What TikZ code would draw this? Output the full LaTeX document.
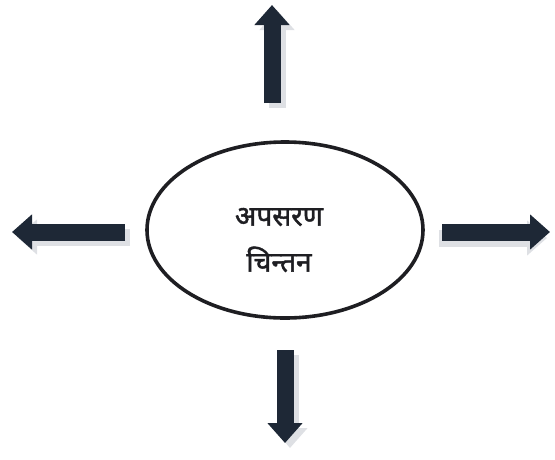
\documentclass[tikz,border=0pt]{standalone}
\usepackage{fontspec}
\newfontfamily\deva[Script=Devanagari,FakeBold=1.6]{Noto Sans}
\usepackage{tikz}
\usetikzlibrary{shapes,arrows.meta,positioning}
\definecolor{arrowblue}{RGB}{30,40,54}
\definecolor{ringgrey}{RGB}{30,30,34}
\definecolor{shadegrey}{RGB}{222,224,228}

\begin{document}
\begin{tikzpicture}[x=1pt, y=-1pt,
    blockarrow/.style={line width=17pt, arrowblue, -{Triangle[length=20pt,width=34pt]}},
    arrowshade/.style={blockarrow, shadegrey},
    thought/.style={ellipse, draw=ringgrey, line width=3.6pt, minimum width=276pt,
                    minimum height=176pt},
    thoughttext/.style={align=center, text=ringgrey,
                    font=\deva\fontsize{28}{46}\selectfont}
]
    \useasboundingbox (0,0) rectangle (555,459);
    \node[thought] (idea) at (285,230) {};
    \node[thoughttext] (ideatext) at (279,240) {अपसरण\\चिन्तन};

    % ends of the four block arrows
    \coordinate (upS) at (272,103);   \coordinate (upE) at (272,5);
    \coordinate (leftS) at (125,232); \coordinate (leftE) at (12,232);
    \coordinate (rightS) at (442,232); \coordinate (rightE) at (550,232);
    \coordinate (downS) at (285,350); \coordinate (downE) at (285,443);

    % faint shadows
    \draw[arrowshade] ([shift={(5,5)}]upS) -- ([shift={(5,5)}]upE);
    \draw[arrowshade] ([shift={(5,5)}]leftS) -- ([shift={(5,5)}]leftE);
    \draw[arrowshade] ([shift={(-3,6)}]rightS) -- ([shift={(-3,6)}]rightE);
    \draw[arrowshade] ([shift={(5,5)}]downS) -- ([shift={(5,5)}]downE);

    \draw[blockarrow] (upS) -- (upE);
    \draw[blockarrow] (leftS) -- (leftE);
    \draw[blockarrow] (rightS) -- (rightE);
    \draw[blockarrow] (downS) -- (downE);
\end{tikzpicture}
\end{document}
